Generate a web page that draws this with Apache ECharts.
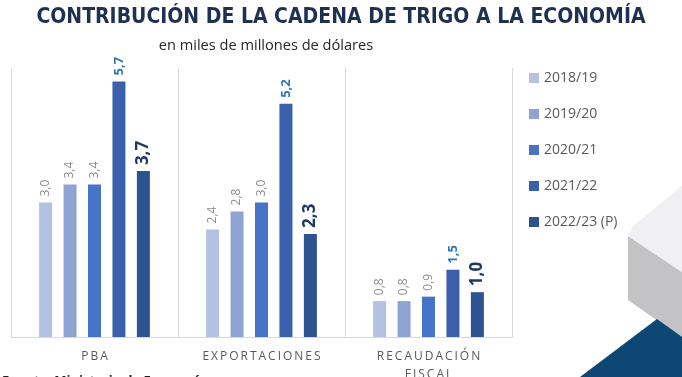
<!DOCTYPE html>
<html>
<head>
<meta charset="utf-8">
<script src="https://cdn.jsdelivr.net/npm/echarts@6/dist/echarts.min.js"></script>
<style>
  html, body { margin: 0; padding: 0; background: #fff; }
  #chart { width: 682px; height: 377px; }
</style>
</head>
<body>
<div id="chart"></div>
<script>
const categories = ['PBA', 'EXPORTACIONES', 'RECAUDACIÓN\nFISCAL'];
const seasons = ['2018/19', '2019/20', '2020/21', '2021/22', '2022/23 (P)'];
const v1819 = [3.0, 2.4, 0.8];
const v1920 = [3.4, 2.8, 0.8];
const v2021 = [3.4, 3.0, 0.9];
const v2122 = [5.7, 5.2, 1.5];
const v2223 = [3.7, 2.3, 1.0];

const colors = ['#b4c1e0', '#8fa3d3', '#4673c5', '#3a60ab', '#2f5290'];
const labelStyles = [
  { color: '#8c8c8c', fontSize: 12, fontWeight: 'normal' },
  { color: '#8c8c8c', fontSize: 12, fontWeight: 'normal' },
  { color: '#8c8c8c', fontSize: 12, fontWeight: 'normal' },
  { color: '#2e75b6', fontSize: 13, fontWeight: 'bold' },
  { color: '#1f3864', fontSize: 17, fontWeight: 'bold' }
];
const seriesValues = [v1819, v1920, v2021, v2122, v2223];

const font = "'Open Sans', 'Noto Sans', sans-serif";
const spaced = s => s.split('\n').map(l => l.split('').join('\u2009')).join('\n');

const myChart = echarts.init(document.getElementById('chart'));

const option = {
  backgroundColor: '#fff',
  animation: false,
  title: [
    {
      text: 'CONTRIBUCIÓN DE LA CADENA DE TRIGO A LA ECONOMÍA',
      left: 'center',
      top: 2,
      textStyle: { fontFamily: "'Liberation Sans Narrow', 'DejaVu Sans Condensed', sans-serif", fontSize: 21, fontWeight: 'bold', color: '#1f3152' }
    },
    {
      text: 'en miles de millones de dólares',
      left: 261,
      textAlign: 'center',
      top: 33,
      textStyle: { fontFamily: font, fontSize: 14.6, fontWeight: 'normal', color: '#262626' }
    }
  ],
  legend: {
    orient: 'vertical',
    left: 524,
    top: 66,
    itemWidth: 10,
    itemHeight: 10,
    itemGap: 22,
    icon: 'rect',
    data: seasons,
    textStyle: { fontFamily: font, fontSize: 14, color: '#595959' }
  },
  grid: { left: 11, right: 170, top: 68, bottom: 40, outerBoundsMode: 'none' },
  xAxis: {
    type: 'category',
    data: categories,
    axisTick: { show: false },
    axisLine: { lineStyle: { color: '#d9d9d9' } },
    splitLine: { show: true, lineStyle: { color: '#d9d9d9' } },
    axisLabel: {
      margin: 11,
      fontFamily: font,
      fontSize: 12,
      color: '#595959',
      lineHeight: 18,
      formatter: v => spaced(v)
    }
  },
  yAxis: {
    type: 'value',
    min: 0,
    max: 6,
    show: false
  },
  graphic: [
    { type: 'polygon', silent: true, z: -1, shape: { points: [[628, 300], [682, 338], [682, 272], [628, 236]] }, style: { fill: '#c3c3c5' } },
    { type: 'polygon', silent: true, z: -1, shape: { points: [[628, 236], [682, 272], [682, 186], [633, 226]] }, style: { fill: '#f0f0f2' } },
    { type: 'polygon', silent: true, z: -1, shape: { points: [[580, 377], [657, 319], [682, 337], [682, 377]] }, style: { fill: '#0f4774' } },
    { type: 'text', silent: true, left: 2, top: 374.5, style: { text: 'Fuente: Ministerio de Economía', fontFamily: font, fontSize: 13, fontWeight: 'bold', fill: '#1f1f1f' } }
  ],
  series: seasons.map((name, i) => ({
    name: name,
    type: 'bar',
    data: seriesValues[i],
    barWidth: 13,
    barGap: '88%',
    itemStyle: { color: colors[i] },
    label: {
      show: true,
      position: 'top',
      rotate: 90,
      align: 'left',
      verticalAlign: 'middle',
      distance: 6,
      fontFamily: font,
      color: labelStyles[i].color,
      fontSize: labelStyles[i].fontSize,
      fontWeight: labelStyles[i].fontWeight,
      formatter: p => p.value.toFixed(1).replace('.', ',')
    }
  }))
};

myChart.setOption(option);
</script>
</body>
</html>
